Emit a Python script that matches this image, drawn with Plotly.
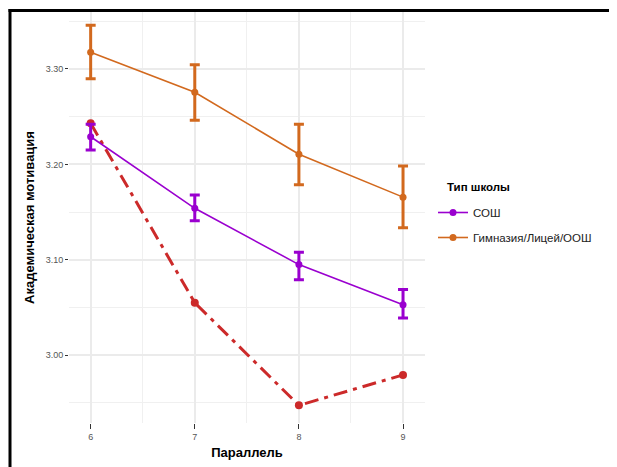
import plotly.graph_objects as go

grades = [6, 7, 8, 9]

sosh_mean = [3.229, 3.154, 3.095, 3.053]
sosh_upper = [3.242, 3.168, 3.108, 3.069]
sosh_lower = [3.215, 3.141, 3.079, 3.039]

gym_mean = [3.3175, 3.2756, 3.2107, 3.1657]
gym_upper = [3.3458, 3.3045, 3.2421, 3.1984]
gym_lower = [3.2898, 3.2463, 3.1788, 3.1335]

red_vals = [3.2431, 3.055, 2.9475, 2.9794]

series_names = ["СОШ", "Гимназия/Лицей/ООШ"]
legend_title = "Тип школы"

PURPLE = "#9A00CF"
ORANGE = "#D2691E"
RED = "#CC2A2A"
FONT = "Liberation Sans"

OFF = 8  # page body margin
W, H = 617 - OFF, 467 - OFF
L, R, T, B = 69 - OFF, 425 - OFF, 12 - OFF, 423 - OFF

fig = go.Figure()

fig.add_trace(go.Scatter(
    x=grades, y=red_vals, mode="lines+markers", showlegend=False,
    line=dict(color=RED, width=3, dash="14px,6px,4px,6px"),
    marker=dict(color=RED, size=8),
))

for i, (name, mean, up, lo, col) in enumerate([
    (series_names[0], sosh_mean, sosh_upper, sosh_lower, PURPLE),
    (series_names[1], gym_mean, gym_upper, gym_lower, ORANGE),
]):
    fig.add_trace(go.Scatter(
        x=grades, y=mean, mode="lines+markers", name=name, legendgroup="g%d" % i,
        line=dict(color=col, width=1.6),
        marker=dict(color=col, size=7),
        error_y=dict(type="data", symmetric=False,
                     array=[u - m for u, m in zip(up, mean)],
                     arrayminus=[m - l for m, l in zip(mean, lo)],
                     color=col, thickness=3, width=5),
    ))

pw = R - L
ph = B - T


def px(xp):
    return (xp - OFF - L) / pw


def py(yp):
    return (B - (yp - OFF)) / ph


# black frame lines (top and left) like the reference crop
fig.add_shape(type="line", xref="paper", yref="paper",
              x0=px(8.5), x1=px(630), y0=py(10.5), y1=py(10.5),
              line=dict(color="black", width=3))
fig.add_shape(type="line", xref="paper", yref="paper",
              x0=px(10), x1=px(10), y0=py(9), y1=py(480),
              line=dict(color="black", width=3))

fig.add_annotation(xref="paper", yref="paper", x=px(445), y=py(187),
                   xanchor="left", yanchor="middle", showarrow=False,
                   text="<b>%s</b>" % legend_title,
                   font=dict(size=11.5, color="black", family=FONT))

fig.update_layout(
    width=W, height=H,
    margin=dict(l=L, r=W - R, t=T, b=H - B, autoexpand=False),
    paper_bgcolor="white", plot_bgcolor="white",
    font=dict(family=FONT, color="#222"),
    legend=dict(
        x=px(433), y=py(198), xanchor="left", yanchor="top",
        font=dict(size=11.5, color="#222"),
        tracegroupgap=6, itemwidth=30,
    ),
    xaxis=dict(
        range=[5.792, 9.211], tickvals=grades, ticktext=[str(g) for g in grades],
        showgrid=True, gridcolor="#EBEBEB", gridwidth=1.5, zeroline=False,
        ticks="outside", ticklen=5, tickwidth=1.2, tickcolor="#333",
        tickfont=dict(size=9, color="#555"), ticklabelstandoff=0,
        minor=dict(tickvals=[6.5, 7.5, 8.5], showgrid=True, gridcolor="#F0F0F0", gridwidth=0.8),
        title=dict(text="<b>Параллель</b>", font=dict(size=13, color="black"), standoff=7),
        showline=False,
    ),
    yaxis=dict(
        range=[2.929, 3.3597], tickvals=[3.0, 3.1, 3.2, 3.3],
        tickformat=".2f",
        showgrid=True, gridcolor="#EBEBEB", gridwidth=1.5, zeroline=False,
        ticks="outside", ticklen=3, tickwidth=1.2, tickcolor="#333",
        tickfont=dict(size=9, color="#555"),
        minor=dict(tickvals=[2.95, 3.05, 3.15, 3.25, 3.35], showgrid=True, gridcolor="#F0F0F0", gridwidth=0.8),
        title=dict(text="<b>Академическая мотивация</b>", font=dict(size=13, color="black"), standoff=8),
        showline=False,
    ),
)

fig.write_html("out.html")
